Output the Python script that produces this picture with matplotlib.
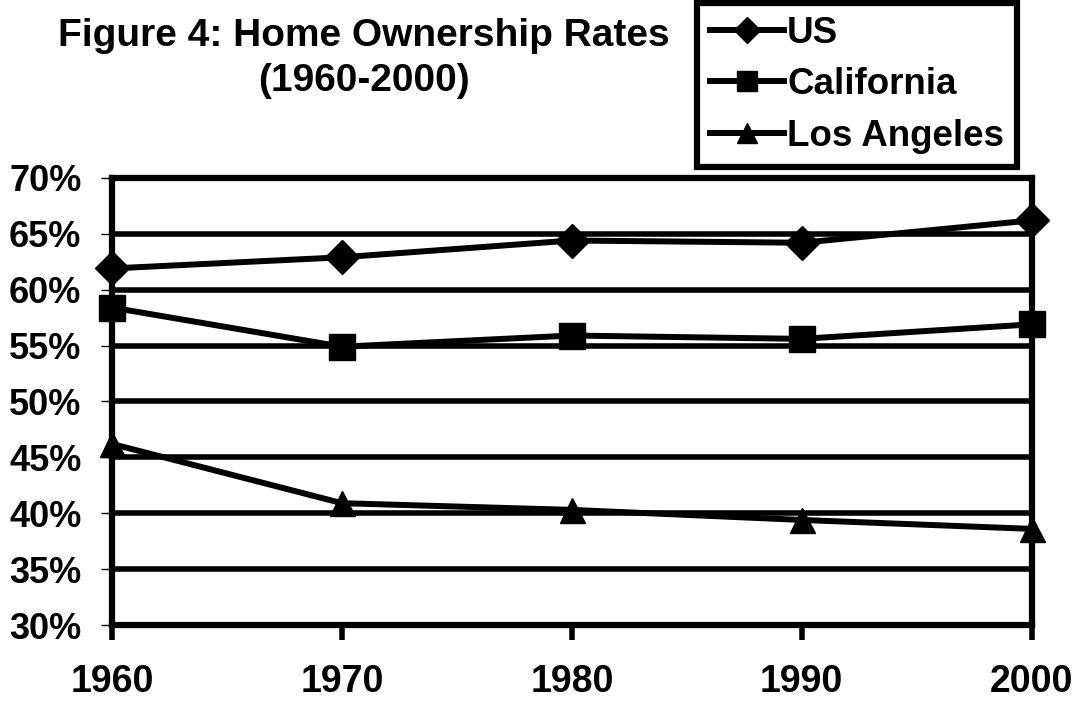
import numpy as np
import matplotlib.pyplot as plt
from matplotlib.ticker import FuncFormatter

plt.rcParams['font.family'] = ['Liberation Sans', 'DejaVu Sans']
plt.rcParams['font.weight'] = 'bold'

# data
years = [1960, 1970, 1980, 1990, 2000]
us = [61.9, 62.9, 64.4, 64.2, 66.2]
california = [58.4, 54.9, 55.9, 55.6, 56.9]
los_angeles = [46.2, 40.9, 40.3, 39.4, 38.6]
y_ticks = [30, 35, 40, 45, 50, 55, 60, 65, 70]

fig = plt.figure(figsize=(10.78, 7.06), dpi=100)
ax = fig.add_axes([0.1039, 0.1147, 0.8531, 0.6333])

lw = 4.3
ax.plot(years, us, color='black', lw=lw, marker='D', ms=17, label='US', clip_on=False, zorder=5)
ax.plot(years, california, color='black', lw=lw, marker='s', ms=18.5, label='California', clip_on=False, zorder=5)
ax.plot(years, los_angeles, color='black', lw=lw, marker='^', ms=18, label='Los Angeles', clip_on=False, zorder=5)

ax.set_xlim(1960, 2000)
ax.set_ylim(30, 70)
ax.set_xticks(years)
ax.set_yticks(y_ticks)
ax.yaxis.set_major_formatter(FuncFormatter(lambda v, p: '%d%%' % v))

# horizontal grid
for yv in y_ticks[1:-1]:
    ax.axhline(yv, color='black', lw=4.0, zorder=1)

for s in ax.spines.values():
    s.set_linewidth(4.5)

ax.tick_params(axis='y', direction='out', length=8, width=1, pad=14, labelsize=26)
ax.tick_params(axis='x', direction='out', length=11, width=4, pad=17, labelsize=27)
for t in ax.get_xticklabels() + ax.get_yticklabels():
    t.set_fontweight('bold')

fig.text(0.3377, 0.917, 'Figure 4: Home Ownership Rates\n(1960-2000)', ha='center', va='center',
         fontsize=28, fontweight='bold', linespacing=1.32)

leg = fig.legend(loc='upper left', bbox_to_anchor=(0.6466, 0.996), frameon=True,
                 fancybox=False, edgecolor='black', framealpha=1, handlelength=2.0,
                 handletextpad=0.1, labelspacing=0.45, borderpad=0.35, borderaxespad=0,
                 markerscale=0.8, prop={'weight': 'bold', 'size': 26.5})
leg.get_frame().set_linewidth(4.5)

fig.savefig('out.png', dpi=100)
